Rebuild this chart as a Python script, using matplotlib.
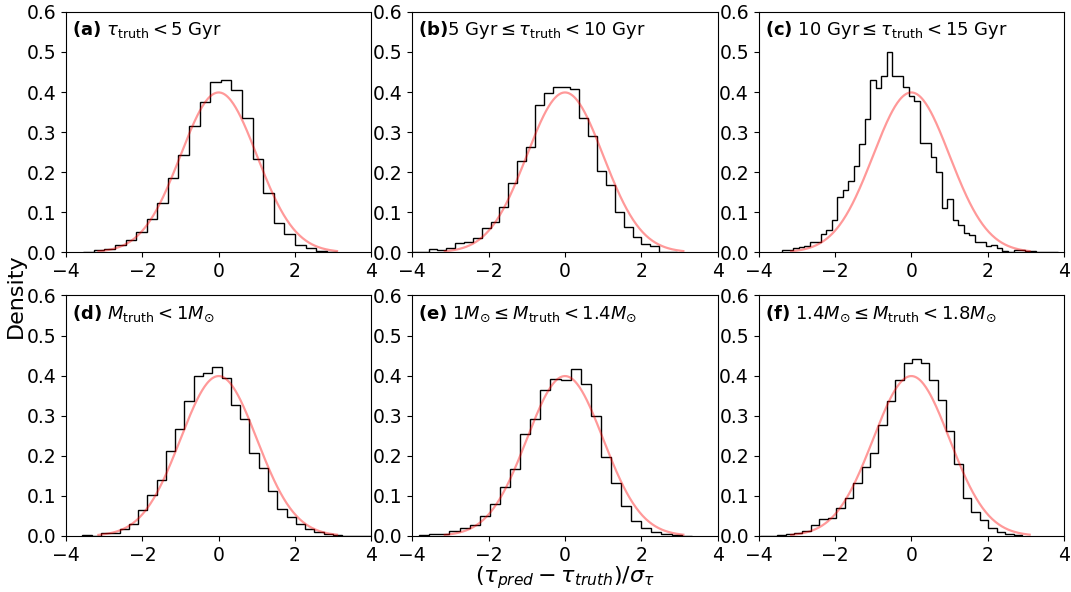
import numpy as np
import matplotlib
matplotlib.use("Agg")
import matplotlib.pyplot as plt

# histogram densities, one array per panel
# (bin range lo/hi and heights; bins are equal width)
heights_a = [0.002, 0.005, 0.009, 0.019, 0.032, 0.051, 0.083, 0.124, 0.185, 0.244,
             0.316, 0.374, 0.424, 0.430, 0.405, 0.336, 0.232, 0.149, 0.073, 0.046,
             0.018, 0.010, 0.004, 0.002]
range_a = (-3.55, 3.11)

heights_b = [0.002, 0.002, 0.0075, 0.006, 0.011, 0.024, 0.026, 0.036, 0.062, 0.077,
             0.114, 0.173, 0.228, 0.264, 0.368, 0.398, 0.412, 0.412, 0.407, 0.334,
             0.290, 0.202, 0.168, 0.100, 0.063, 0.038, 0.021, 0.017, 0.002, 0.001]
range_b = (-4.04, 2.93)

heights_c = [0.005, 0.006, 0.011, 0.013, 0.016, 0.026, 0.026, 0.045, 0.056, 0.081,
             0.138, 0.155, 0.177, 0.216, 0.270, 0.333, 0.430, 0.410, 0.440, 0.499,
             0.441, 0.441, 0.412, 0.389, 0.377, 0.272, 0.274, 0.239, 0.200, 0.111,
             0.132, 0.081, 0.068, 0.049, 0.044, 0.027, 0.027, 0.017, 0.019, 0.012,
             0.004, 0.001, 0.005, 0.005, 0.003, 0.003, 0.0, 0.002, 0.0, 0.002]
range_c = (-3.38, 3.83)

heights_d = [0.003, 0.001, 0.007, 0.008, 0.018, 0.031, 0.064, 0.102, 0.140, 0.211,
             0.268, 0.337, 0.399, 0.407, 0.421, 0.395, 0.326, 0.292, 0.206, 0.169,
             0.112, 0.067, 0.048, 0.031, 0.017, 0.011, 0.005, 0.002, 0.001, 0.001,
             0.001, 0.001]
range_d = (-3.57, 4.21)

heights_e = [0.002, 0.005, 0.005, 0.012, 0.019, 0.027, 0.050, 0.079, 0.121, 0.168,
             0.255, 0.293, 0.364, 0.391, 0.389, 0.416, 0.379, 0.300, 0.197, 0.133,
             0.075, 0.037, 0.020, 0.011, 0.004, 0.002, 0.001]
range_e = (-3.82, 3.32)

heights_f = [0.001, 0.0, 0.002, 0.006, 0.007, 0.013, 0.027, 0.042, 0.044, 0.069,
             0.096, 0.131, 0.173, 0.207, 0.276, 0.336, 0.389, 0.432, 0.441, 0.432,
             0.389, 0.338, 0.263, 0.180, 0.094, 0.061, 0.040, 0.020, 0.009, 0.004,
             0.002]
range_f = (-3.96, 2.90)

titles = [r"$\bf{(a)}$ $\tau_{\rm truth} < 5$ Gyr",
          r"$\bf{(b)}$5 Gyr$\leq\tau_{\rm truth} < 10$ Gyr",
          r"$\bf{(c)}$ 10 Gyr$\leq\tau_{\rm truth} < 15$ Gyr",
          r"$\bf{(d)}$ $M_{\rm truth} < 1M_{\odot}$",
          r"$\bf{(e)}$ $1M_{\odot} \leq M_{\rm truth} < 1.4M_{\odot}$",
          r"$\bf{(f)}$ $1.4M_{\odot} \leq M_{\rm truth} < 1.8M_{\odot}$"]

all_heights = [heights_a, heights_b, heights_c, heights_d, heights_e, heights_f]
all_ranges = [range_a, range_b, range_c, range_d, range_e, range_f]

# reference standard normal
gx = np.linspace(-3.15, 3.1, 300)
gy = np.exp(-gx**2 / 2) / np.sqrt(2 * np.pi)

fig, axarr = plt.subplots(2, 3, figsize=(10.71, 5.92), dpi=100)
plt.subplots_adjust(left=0.0616, right=0.9935, top=0.980, bottom=0.0946,
                    wspace=0.134, hspace=0.179)

for ax, h, (lo, hi), title in zip(axarr.flat, all_heights, all_ranges, titles):
    edges = np.linspace(lo, hi, len(h) + 1)
    ax.stairs(h, edges, color='k', lw=1)
    ax.plot(gx, gy, color='r', alpha=0.4, lw=1.6)
    ax.set_xlim(-4, 4)
    ax.set_ylim(0, 0.6)
    ax.set_xticks([-4, -2, 0, 2, 4])
    ax.set_yticks(np.arange(0, 0.61, 0.1))
    ax.tick_params(labelsize=13.5)
    ax.text(0.02, 0.925, title, transform=ax.transAxes, fontsize=13, va='center')

fig.text(0.015, 0.5, "Density", rotation=90, fontsize=16, va='center', ha='center')
fig.text(0.527, 0.024, r"$(\tau_{pred} - \tau_{truth})/\sigma_{\tau}$", fontsize=16,
         ha='center', va='center')

plt.savefig("out.png", dpi=100)
